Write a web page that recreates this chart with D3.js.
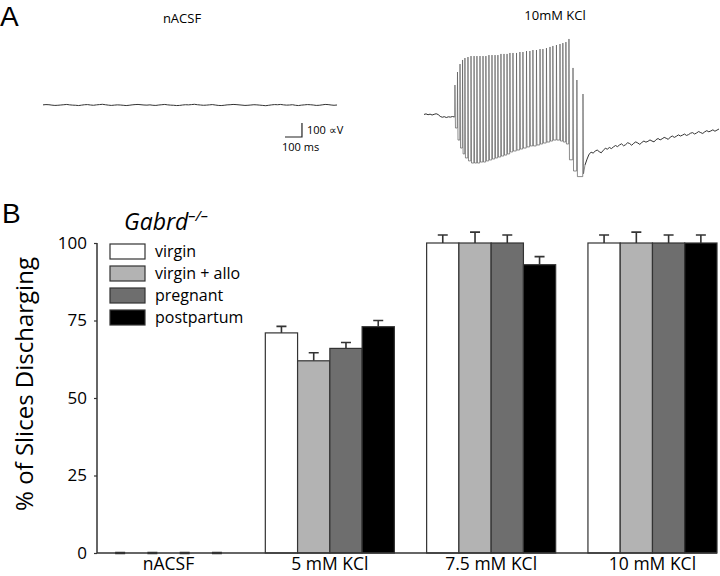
<!DOCTYPE html>
<html>
<head>
<meta charset="utf-8">
<script src="https://cdn.jsdelivr.net/npm/d3@7"></script>
<style>
  body { margin: 0; background: #fff; }
  text { font-family: "Open Sans", "Noto Sans", sans-serif; fill: #000; }
</style>
</head>
<body>
<script>
// ---------------- DATA ----------------
const categories = ["nACSF", "5 mM KCl", "7.5 mM KCl", "10 mM KCl"];
const seriesNames = ["virgin", "virgin + allo", "pregnant", "postpartum"];
const seriesColors = ["#ffffff", "#b3b3b3", "#6e6e6e", "#000000"];

const virgin      = [0, 71, 100, 100];
const virginAllo  = [0, 62, 100, 100];
const pregnant    = [0, 66, 100, 100];
const postpartum  = [0, 73, 93, 100];

const virginErr     = [0, 2.1, 2.6, 2.6];
const virginAlloErr = [0, 2.6, 3.5, 3.5];
const pregnantErr   = [0, 1.9, 2.6, 2.6];
const postpartumErr = [0, 2.0, 2.6, 2.6];

const yTicks = [0, 25, 50, 75, 100];

// Panel A traces (time in ms, voltage in µV relative to rest)
const nacsfStepMs = 17.5;
const nacsfTrace = [1,3,2,-1,-3,-2,0,2,4,1, -1,-2,-4,-1,2,3,0,-2,1,3, 5,2,-1,-3,-1,1,0,-2,-4,-2,
  1,3,4,2,0,-1,1,-2,-3,0, 2,4,1,-1,-2,-4,-3,0,2,1, 3,5,2,0,-2,-1,1,3,0,-3,
  -4,-2,1,2,4,3,1,-1,-3,-2, 0,2,1,-1,-3,-5,-2,1,3,2, 4,1,-1,0,2,-2,-4,-1,1,3,
  2,0,-3,-2,1,4,3,0,-2,0];

const kclPreStepMs = 12;
const kclPre = [4, 8, 2, 6, 0, 5, 9, 3, -10, -16, -12, -18, -13, -15, -11, -14];

const spikeTimes = [183,198,213,228,242,260,278,296,313,331,349,366,384,402,420,437,455,473,491,508,
  526,547,567,585,606,626,644,665,686,703,724,745,762,783,804,821,839,857,881,904,940];
const spikePeaks = [214,307,364,393,407,414,421,421,421,421,421,421,428,428,428,428,436,436,436,443,
  443,443,450,450,457,457,464,464,471,471,478,486,493,500,507,514,521,543,336,250,150];
const spikeTroughs = [-93,-179,-236,-278,-307,-328,-343,-343,-343,-336,-336,-328,-321,-314,-307,-300,-293,-286,-278,-264,
  -257,-250,-243,-236,-228,-221,-221,-214,-207,-200,-193,-186,-179,-179,-186,-193,-207,-320,-400,-440,-420];

const kclPostStartMs = 952;
const kclPostStepMs = 12;
const kclPost = [-357,-315,-280,-266,-272,-258,-250,-262,-270,-252,-238,-244,-232,-240,-228,-218,-226,-214,-206,-220,
  -212,-198,-204,-216,-202,-192,-200,-210,-196,-186,-194,-188,-178,-186,-192,-176,-168,-178,-170,-160,
  -166,-174,-158,-150,-160,-152,-142,-150,-144,-136,-146,-140,-130,-126,-136,-128,-118,-126,-132,-120,
  -112,-120,-114,-106,-116,-108,-100];

// ---------------- DRAW ----------------
const W = 720, H = 576;
const svg = d3.select("body").append("svg").attr("width", W).attr("height", H);

// ---- Panel A ----
svg.append("text").attr("x", 0).attr("y", 26)
  .style("font-family", '"Liberation Sans", Arial, sans-serif').style("font-size", "28px").text("A");

const xA1 = d3.scaleLinear().domain([0, 1750]).range([43, 340]);
const yA1 = d3.scaleLinear().domain([0, 100]).range([105, 91]);
const xA2 = d3.scaleLinear().domain([0, 1750]).range([424, 720]);
const yA2 = d3.scaleLinear().domain([0, 100]).range([115, 101]);

svg.append("text").attr("x", 182).attr("y", 23).attr("text-anchor", "middle")
  .style("font-size", "13px").text("nACSF");
svg.append("text").attr("x", 555).attr("y", 20).attr("text-anchor", "middle")
  .style("font-size", "13px").text("10mM KCl");

const lineA1 = d3.line().x(d => xA1(d[0])).y(d => yA1(d[1]));
const lineA2 = d3.line().x(d => xA2(d[0])).y(d => yA2(d[1]));

const nacsfPts = nacsfTrace.map((v, i) => [i * nacsfStepMs, v]);
svg.append("path").attr("d", lineA1(nacsfPts))
  .attr("fill", "none").attr("stroke", "#333").attr("stroke-width", 1);

const prePts = kclPre.map((v, i) => [i * kclPreStepMs, v]);
const postPts = kclPost.map((v, i) => [kclPostStartMs + i * kclPostStepMs, v]);
const burstPts = [prePts[prePts.length - 1]];
spikeTimes.forEach((t, i) => {
  const prev = i === 0 ? kclPre[kclPre.length - 1] : spikeTroughs[i - 1];
  burstPts.push([t - 1.5, prev]);
  burstPts.push([t, spikePeaks[i]]);
  burstPts.push([t + 3, spikeTroughs[i]]);
});
burstPts.push(postPts[0]);

svg.append("path").attr("d", lineA2(burstPts))
  .attr("fill", "none").attr("stroke", "#5a5a5a").attr("stroke-width", 0.7);
svg.append("path").attr("d", lineA2(prePts))
  .attr("fill", "none").attr("stroke", "#333").attr("stroke-width", 1);
svg.append("path").attr("d", lineA2(postPts))
  .attr("fill", "none").attr("stroke", "#333").attr("stroke-width", 1);

// scale bar (100 ms, 100 µV)
const sbX = 285, sbY = 137;
const sbW = xA1(100) - xA1(0), sbH = yA1(0) - yA1(100);
svg.append("path")
  .attr("d", `M${sbX},${sbY}H${sbX + sbW}V${sbY - sbH}`)
  .attr("fill", "none").attr("stroke", "#222").attr("stroke-width", 1.2);
svg.append("text").attr("x", sbX + sbW + 5).attr("y", sbY - 3)
  .style("font-size", "11px").text("100 \u221DV");
svg.append("text").attr("x", sbX - 3).attr("y", sbY + 14)
  .style("font-size", "11px").text("100 ms");

// ---- Panel B ----
svg.append("text").attr("x", 2).attr("y", 223)
  .style("font-family", '"Liberation Sans", Arial, sans-serif').style("font-size", "28px").text("B");

const y = d3.scaleLinear().domain([0, 100]).range([553, 243]);
const x0 = d3.scaleBand().domain(categories).range([104, 717]).paddingInner(0.2).paddingOuter(0);
const x1 = d3.scaleBand().domain(seriesNames).range([0, x0.bandwidth()]).padding(0);

const values = [virgin, virginAllo, pregnant, postpartum];
const errs = [virginErr, virginAlloErr, pregnantErr, postpartumErr];

const rows = [];
categories.forEach((c, ci) => seriesNames.forEach((s, si) => {
  rows.push({ cat: c, ser: s, si, v: values[si][ci], e: errs[si][ci] });
}));

const g = svg.append("g");
const capW = 10;
g.selectAll("path.err").data(rows).join("path").attr("class", "err")
  .attr("d", d => {
    const cx = x0(d.cat) + x1(d.ser) + x1.bandwidth() / 2;
    const yt = y(d.v), ye = y(d.v + d.e);
    return `M${cx},${yt}V${ye}M${cx - capW / 2},${ye}H${cx + capW / 2}`;
  })
  .attr("fill", "none").attr("stroke", "#333")
  .attr("stroke-width", d => d.v === 0 ? 2.5 : 1.6);
g.selectAll("rect.bar").data(rows.filter(d => d.v > 0)).join("rect").attr("class", "bar")
  .attr("x", d => x0(d.cat) + x1(d.ser))
  .attr("y", d => y(d.v))
  .attr("width", x1.bandwidth())
  .attr("height", d => y(0) - y(d.v))
  .attr("fill", d => seriesColors[d.si])
  .attr("stroke", "#333").attr("stroke-width", 1.2);

// axes
const axisX = 97;
svg.append("line").attr("x1", axisX).attr("x2", axisX).attr("y1", y(100)).attr("y2", y(0))
  .attr("stroke", "#333").attr("stroke-width", 1.5);
svg.append("line").attr("x1", axisX).attr("x2", 717).attr("y1", y(0)).attr("y2", y(0))
  .attr("stroke", "#333").attr("stroke-width", 1.5);
const yAxis = d3.axisLeft(y).tickValues(yTicks).tickSize(3).tickPadding(7);
const ya = svg.append("g").attr("transform", `translate(${axisX},0)`).call(yAxis);
ya.select(".domain").remove();
ya.selectAll(".tick line").attr("stroke", "#333").attr("stroke-width", 1.2);
ya.selectAll(".tick text").style("font-size", "17px").style("font-family", '"Open Sans", sans-serif').attr("fill", "#000");

// category labels
svg.selectAll("text.cat").data(categories).join("text").attr("class", "cat")
  .attr("x", d => x0(d) + x0.bandwidth() / 2).attr("y", 570)
  .attr("text-anchor", "middle").style("font-size", "17.5px").text(d => d);

// y label
svg.append("text")
  .attr("transform", "translate(33,384) rotate(-90)")
  .attr("text-anchor", "middle").style("font-size", "24px")
  .text("% of Slices Discharging");

// legend
const lt = svg.append("text").attr("x", 124).attr("y", 230)
  .style("font-size", "23px").style("font-style", "italic");
lt.append("tspan").text("Gabrd");
lt.append("tspan").attr("dy", -9).style("font-size", "15px").text("\u2013/\u2013");

const lg = svg.append("g");
seriesNames.forEach((s, i) => {
  const yy = 244 + i * 22;
  lg.append("rect").attr("x", 110).attr("y", yy).attr("width", 35).attr("height", 15)
    .attr("fill", seriesColors[i]).attr("stroke", "#333").attr("stroke-width", 1.2);
  lg.append("text").attr("x", 155).attr("y", yy + 13).style("font-size", "16px").text(s);
});
</script>
</body>
</html>
